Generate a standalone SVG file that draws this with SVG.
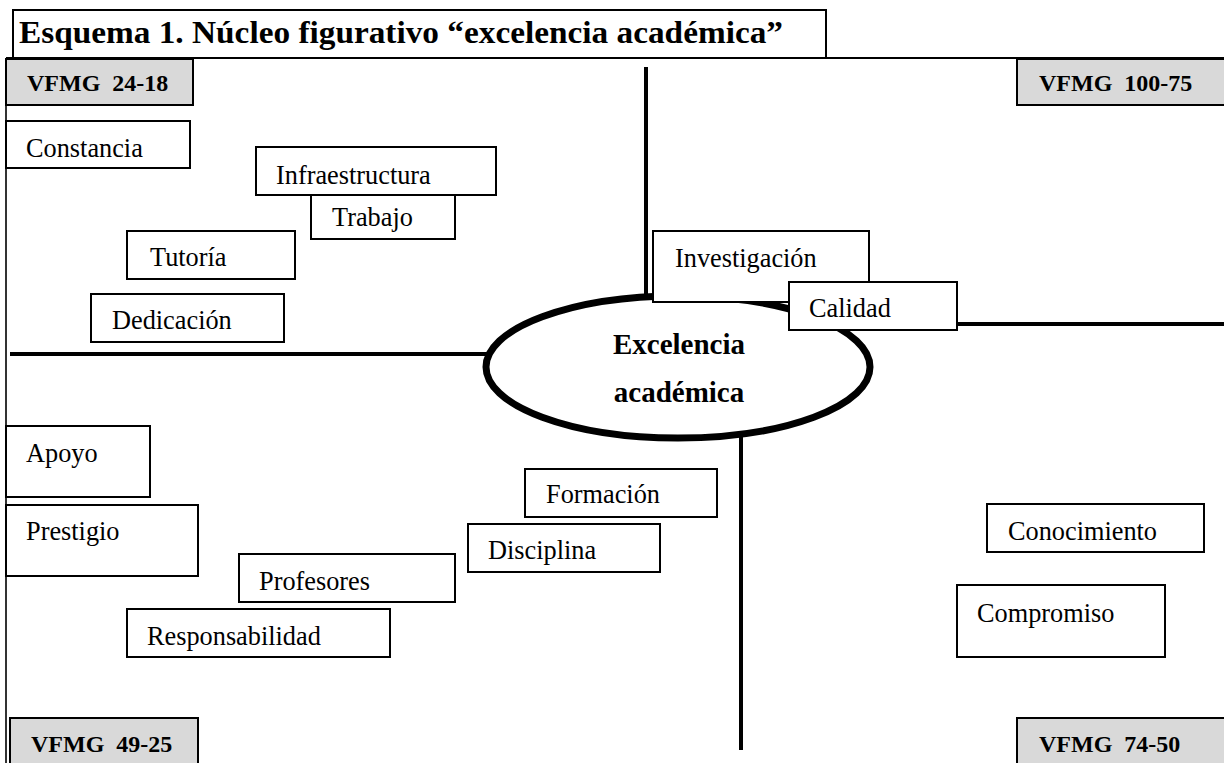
<svg xmlns="http://www.w3.org/2000/svg" width="1224" height="763" viewBox="0 0 1224 763">
<style>
.box{fill:#fff;stroke:#000;stroke-width:2}
.hdr{fill:#d9d9d9;stroke:#000;stroke-width:2}
.t{font-family:"Liberation Serif","Times New Roman",serif;font-size:26.3px;fill:#000}
.h{font-family:"Liberation Serif","Times New Roman",serif;font-size:24px;font-weight:bold;fill:#000;white-space:pre}
.ttl{font-family:"Liberation Serif","Times New Roman",serif;font-size:31px;font-weight:bold;fill:#000}
.c{font-family:"Liberation Serif","Times New Roman",serif;font-size:29px;font-weight:bold;fill:#000;text-anchor:middle}
.ax{stroke:#000;stroke-width:4;fill:none}
</style>
<rect width="1224" height="763" fill="#fff"/>
<g id="frame">
<rect x="13" y="10" width="813" height="48" fill="#fff" stroke="#000" stroke-width="2"/>
<text class="ttl" x="19" y="43" textLength="764" lengthAdjust="spacingAndGlyphs">Esquema 1. Núcleo figurativo “excelencia académica”</text>
<line x1="6" y1="58" x2="1224" y2="58" stroke="#000" stroke-width="2"/>
<line x1="6" y1="58" x2="6" y2="763" stroke="#333" stroke-width="2"/>
</g>
<g id="connectors">
<line class="ax" x1="10" y1="354" x2="488" y2="354"/>
<line class="ax" x1="646" y1="67" x2="646" y2="298"/>
<line class="ax" x1="957" y1="324" x2="1224" y2="324"/>
<line class="ax" x1="741" y1="418" x2="741" y2="750"/>
</g>
<g id="q1"><rect class="hdr" x="6" y="59" width="187" height="46"/><text class="h" x="27" y="91" xml:space="preserve">VFMG  24-18</text></g>
<g id="q2"><rect class="hdr" x="1017" y="59" width="210" height="46"/><text class="h" x="1039" y="91" xml:space="preserve">VFMG  100-75</text></g>
<g id="q3"><rect class="hdr" x="10" y="718" width="188" height="48"/><text class="h" x="31" y="752" xml:space="preserve">VFMG  49-25</text></g>
<g id="q4"><rect class="hdr" x="1017" y="718" width="210" height="48"/><text class="h" x="1039" y="752" xml:space="preserve">VFMG  74-50</text></g>
<g id="center">
<ellipse cx="678" cy="367" rx="192" ry="71" fill="#fff" stroke="#000" stroke-width="7"/>
<text class="c" x="679" y="354">Excelencia</text>
<text class="c" x="679" y="402">académica</text>
</g>
<g id="constancia"><rect class="box" x="6" y="121" width="184" height="47"/><text class="t" x="26" y="157">Constancia</text></g>
<g id="infraestructura"><rect class="box" x="256" y="147" width="240" height="48"/><text class="t" x="276" y="184">Infraestructura</text></g>
<g id="trabajo"><rect class="box" x="311" y="195" width="144" height="44"/><text class="t" x="332" y="226">Trabajo</text></g>
<g id="tutoria"><rect class="box" x="127" y="231" width="168" height="48"/><text class="t" x="150" y="266">Tutoría</text></g>
<g id="dedicacion"><rect class="box" x="91" y="294" width="193" height="48"/><text class="t" x="112" y="329">Dedicación</text></g>
<g id="investigacion"><rect class="box" x="653" y="231" width="216" height="71"/><text class="t" x="675" y="267">Investigación</text></g>
<g id="calidad"><rect class="box" x="789" y="282" width="168" height="48"/><text class="t" x="809" y="317">Calidad</text></g>
<g id="apoyo"><rect class="box" x="6" y="426" width="144" height="71"/><text class="t" x="26" y="462">Apoyo</text></g>
<g id="prestigio"><rect class="box" x="6" y="505" width="192" height="71"/><text class="t" x="26" y="540">Prestigio</text></g>
<g id="formacion"><rect class="box" x="525" y="469" width="192" height="48"/><text class="t" x="546" y="503">Formación</text></g>
<g id="disciplina"><rect class="box" x="468" y="524" width="192" height="48"/><text class="t" x="488" y="559">Disciplina</text></g>
<g id="profesores"><rect class="box" x="239" y="554" width="216" height="48"/><text class="t" x="259" y="590">Profesores</text></g>
<g id="responsabilidad"><rect class="box" x="127" y="609" width="263" height="48"/><text class="t" x="147" y="645">Responsabilidad</text></g>
<g id="conocimiento"><rect class="box" x="987" y="504" width="217" height="48"/><text class="t" x="1008" y="540">Conocimiento</text></g>
<g id="compromiso"><rect class="box" x="957" y="585" width="208" height="72"/><text class="t" x="977" y="622">Compromiso</text></g>
</svg>
